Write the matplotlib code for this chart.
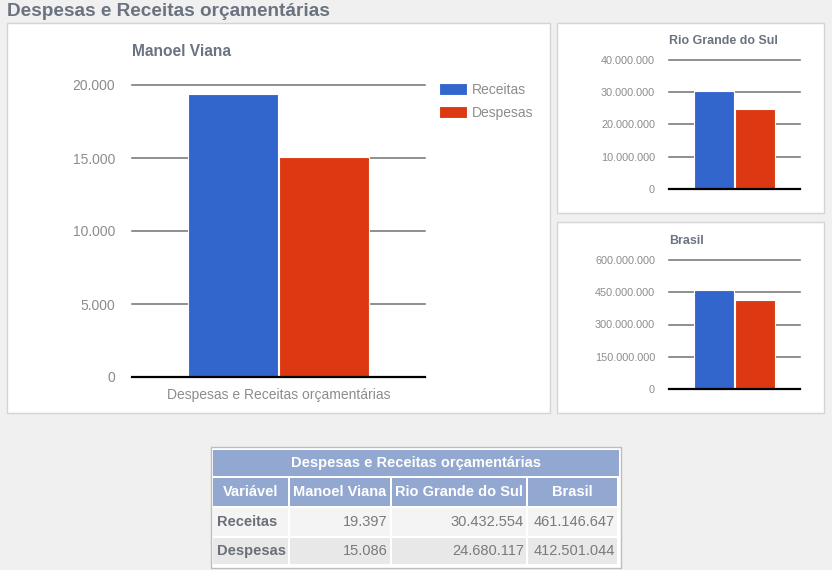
import matplotlib.pyplot as plt
from matplotlib.patches import Rectangle

plt.rcParams['font.family'] = ['Liberation Sans', 'DejaVu Sans']

# data
series = ['Receitas', 'Despesas']
places = ['Manoel Viana', 'Rio Grande do Sul', 'Brasil']
receitas = [19397, 30432554, 461146647]
despesas = [15086, 24680117, 412501044]
yticks = [
    [0, 5000, 10000, 15000, 20000],
    [0, 10000000, 20000000, 30000000, 40000000],
    [0, 150000000, 300000000, 450000000, 600000000],
]
group_label = 'Despesas e Receitas orçamentárias'

BLUE = '#3366cc'
RED = '#dc3912'
TITLE_GRAY = '#6b7280'
TICK_GRAY = '#8c8c8c'
PAGE_BG = '#f0f0f0'

W, H = 832, 570
fig = plt.figure(figsize=(W / 100, H / 100), dpi=100)
fig.patch.set_facecolor(PAGE_BG)

# full-figure axes in pixel units for panels and the table
bg = fig.add_axes([0, 0, 1, 1])
bg.set_xlim(0, W)
bg.set_ylim(H, 0)
bg.axis('off')


def fmt(v):
    return f'{v:,.0f}'.replace(',', '.')


def px_axes(left, right, top, bottom):
    return fig.add_axes([left / W, 1 - bottom / H, (right - left) / W, (bottom - top) / H])


bg.text(7, 12, group_label, fontsize=13.7, fontweight='bold', color=TITLE_GRAY, va='center', ha='left')

# panels
for x0, y0, x1, y1 in [(7, 23, 550, 413), (557, 23, 824, 213), (557, 222, 824, 413)]:
    bg.add_patch(Rectangle((x0, y0), x1 - x0, y1 - y0, facecolor='white', edgecolor='#d4d4d4', lw=1))


def bar_chart(ax, i, tick_fs, title_fs, title_pos):
    ax.bar([-0.31], [receitas[i]], width=0.61, color=BLUE, edgecolor='white', lw=0.8, zorder=3, label=series[0])
    ax.bar([0.31], [despesas[i]], width=0.61, color=RED, edgecolor='white', lw=0.8, zorder=3, label=series[1])
    ax.set_xlim(-1, 1)
    ax.set_ylim(0, yticks[i][-1])
    ax.set_yticks(yticks[i])
    ax.set_yticklabels([fmt(v) for v in yticks[i]])
    ax.tick_params(axis='y', length=0, labelsize=tick_fs, labelcolor=TICK_GRAY, pad=12 if tick_fs > 9 else 10)
    ax.set_xticks([])
    for s in ax.spines.values():
        s.set_visible(False)
    for v in yticks[i][1:]:
        ax.axhline(v, color='#707070', lw=1.1, zorder=1, clip_on=False)
    ax.axhline(0, color='black', lw=1.6, zorder=4, clip_on=False)
    ax.patch.set_alpha(0)
    bg.text(title_pos[0], title_pos[1], places[i], fontsize=title_fs, fontweight='bold',
            color=TITLE_GRAY, va='center', ha='left')


ax1 = px_axes(132, 425, 85, 377)
bar_chart(ax1, 0, 10, 11.2, (132, 52))
ax1.set_xlabel(group_label, fontsize=10, color=TICK_GRAY, labelpad=8)
ax1.legend(loc='upper left', bbox_to_anchor=(439 / W, 1 - 83 / H), bbox_transform=fig.transFigure,
           frameon=False, fontsize=10, handlelength=2.0, handleheight=1.0, handletextpad=0.4,
           labelspacing=0.65, borderpad=0, borderaxespad=0, labelcolor=TICK_GRAY)

ax2 = px_axes(669, 800, 60, 189)
bar_chart(ax2, 1, 7.8, 8.9, (669, 41))

ax3 = px_axes(669, 800, 260, 389)
bar_chart(ax3, 2, 7.8, 8.9, (669, 241))

# table
HEAD_BG = '#92a8d1'
bg.add_patch(Rectangle((211, 447), 410, 121, facecolor='white', edgecolor='#bdbdbd', lw=1))
cols = [213, 290, 392, 528, 619]
rows = [450, 478, 508, 538, 566]
gap = 2
bg.add_patch(Rectangle((cols[0], rows[0]), cols[-1] - cols[0], rows[1] - rows[0] - gap, facecolor=HEAD_BG, lw=0))
bg.text((cols[0] + cols[-1]) / 2, (rows[0] + rows[1] - gap) / 2, group_label, fontsize=10.5,
        fontweight='bold', color='white', ha='center', va='center')

headers = ['Variável'] + places
for j, h in enumerate(headers):
    x0, x1 = cols[j], cols[j + 1] - gap
    bg.add_patch(Rectangle((x0, rows[1]), x1 - x0, rows[2] - rows[1] - gap, facecolor=HEAD_BG, lw=0))
    bg.text((x0 + x1) / 2, (rows[1] + rows[2] - gap) / 2, h, fontsize=10.5, fontweight='bold',
            color='white', ha='center', va='center')

row_bg = ['#f4f4f4', '#e8e8e8']
for r, (name, vals) in enumerate(zip(series, [receitas, despesas])):
    y0, y1 = rows[r + 2], rows[r + 3] - gap
    yc = (y0 + y1) / 2
    for j in range(4):
        x0, x1 = cols[j], cols[j + 1] - gap
        bg.add_patch(Rectangle((x0, y0), x1 - x0, y1 - y0, facecolor=row_bg[r], lw=0))
    bg.text(cols[0] + 4, yc, name, fontsize=10.5, fontweight='bold', color='#6a6f78', ha='left', va='center')
    for j, v in enumerate(vals):
        bg.text(cols[j + 2] - gap - 2, yc, fmt(v), fontsize=10.5, color='#7a7a7a', ha='right', va='center')

fig.savefig('out.png', dpi=100, facecolor=fig.get_facecolor())
